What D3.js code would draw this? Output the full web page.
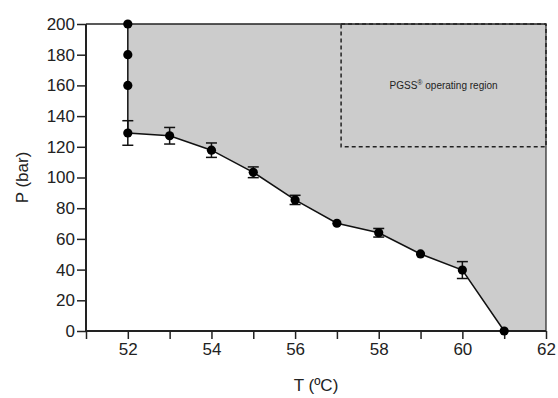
<!DOCTYPE html>
<html>
<head>
<meta charset="utf-8">
<script src="https://cdn.jsdelivr.net/npm/d3@7"></script>
<style>
  body { margin: 0; background: #fff; }
  svg { display: block; font-family: "Liberation Sans", Arial, sans-serif; }
</style>
</head>
<body>
<svg id="svg" width="558" height="398"></svg>
<script>
const w = 558;
const h = 398;

// data
const temps = [52, 52, 52, 52, 53, 54, 55, 56, 57, 58, 59, 60, 61];
const pressures = [200, 180, 160, 129, 127.2, 117.8, 103.4, 85.4, 70.2, 64, 50.2, 39.7, 0];
const errors = [0, 0, 0, 8, 5.4, 4.7, 3.5, 3, 0, 2.8, 0, 5.5, 0];

const xTicks = [51, 52, 53, 54, 55, 56, 57, 58, 59, 60, 61, 62];
const xLabels = [52, 54, 56, 58, 60, 62];
const yTicks = [0, 20, 40, 60, 80, 100, 120, 140, 160, 180, 200];

const regionX = [57.1, 62];
const regionY = [120, 200];
const regionLabel = "PGSS";

let svg = d3.select("#svg");

let xScale = d3.scaleLinear([51, 62], [86, 546]);
let yScale = d3.scaleLinear([0, 200], [331, 24]);

let data = temps.map((t, i) => ({ t, p: pressures[i], e: errors[i] }));

// shaded area above the curve
let areaPts = data.map((d) => [d.t, d.p]);
areaPts.push([62, 0], [62, 200]);

svg
  .append("path")
  .datum(areaPts)
  .attr("fill", "#cccccc")
  .attr("stroke", "none")
  .attr("d", d3.line().x((d) => xScale(d[0])).y((d) => yScale(d[1])));

// frame top + right
svg
  .append("line")
  .attr("x1", xScale(51)).attr("x2", xScale(62))
  .attr("y1", yScale(200)).attr("y2", yScale(200))
  .attr("stroke", "#222").attr("stroke-width", 1.5);
svg
  .append("line")
  .attr("x1", xScale(62)).attr("x2", xScale(62))
  .attr("y1", yScale(200)).attr("y2", yScale(0))
  .attr("stroke", "#222").attr("stroke-width", 1.2);

// operating region box
svg
  .append("rect")
  .attr("x", xScale(regionX[0]))
  .attr("y", yScale(regionY[1]))
  .attr("width", xScale(regionX[1]) - xScale(regionX[0]))
  .attr("height", yScale(regionY[0]) - yScale(regionY[1]))
  .attr("fill", "none")
  .attr("stroke", "#222")
  .attr("stroke-width", 1.5)
  .attr("stroke-dasharray", "4,3");

let label = svg
  .append("text")
  .attr("x", xScale((regionX[0] + regionX[1]) / 2))
  .attr("y", yScale((regionY[0] + regionY[1]) / 2) + 4)
  .attr("text-anchor", "middle")
  .attr("font-size", 10)
  .attr("fill", "#222");
label.append("tspan").text(regionLabel);
label.append("tspan").attr("font-size", 7).attr("dy", -4).text("®");
label.append("tspan").attr("dy", 4).text(" operating region");

// axes
let xAxis = d3.axisBottom(xScale)
  .tickValues(xTicks)
  .tickSize(8)
  .tickPadding(4)
  .tickFormat((d) => (xLabels.includes(d) ? d : ""));

let yAxis = d3.axisLeft(yScale)
  .tickValues(yTicks)
  .tickSize(9)
  .tickPadding(2);

let gx = svg.append("g").attr("transform", `translate(0,${yScale(0)})`).call(xAxis);
let gy = svg.append("g").attr("transform", `translate(${xScale(51)},0)`).call(yAxis);

[gx, gy].forEach((g) => {
  g.select(".domain").attr("stroke", "#222").attr("stroke-width", 2);
  g.selectAll(".tick line").attr("stroke", "#222").attr("stroke-width", 1.5);
  g.selectAll(".tick text")
    .attr("font-size", 17)
    .attr("font-family", "'Liberation Sans', Arial, sans-serif")
    .attr("fill", "#222");
});
gx.select(".domain").attr("d", `M${xScale(51)},0H${xScale(62)}`);
gy.select(".domain").attr("d", `M0,${yScale(0)}V${yScale(200)}`);

// curve
svg
  .append("path")
  .datum(data)
  .attr("fill", "none")
  .attr("stroke", "#111")
  .attr("stroke-width", 1.5)
  .attr("d", d3.line().x((d) => xScale(d.t)).y((d) => yScale(d.p)));

// error bars
let eb = svg.append("g").attr("stroke", "#111").attr("stroke-width", 1.5);
data.filter((d) => d.e > 0).forEach((d) => {
  let x = xScale(d.t);
  let y1 = yScale(d.p + d.e);
  let y2 = yScale(d.p - d.e);
  eb.append("line").attr("x1", x).attr("x2", x).attr("y1", y1).attr("y2", y2);
  eb.append("line").attr("x1", x - 5.5).attr("x2", x + 5.5).attr("y1", y1).attr("y2", y1);
  eb.append("line").attr("x1", x - 5.5).attr("x2", x + 5.5).attr("y1", y2).attr("y2", y2);
});

// points
svg
  .append("g")
  .selectAll("circle")
  .data(data)
  .join("circle")
  .attr("cx", (d) => xScale(d.t))
  .attr("cy", (d) => yScale(d.p))
  .attr("r", 4.6)
  .attr("fill", "#000");

// axis titles
svg
  .append("text")
  .attr("x", (xScale(51) + xScale(62)) / 2)
  .attr("y", 391)
  .attr("text-anchor", "middle")
  .attr("font-size", 17)
  .attr("fill", "#222")
  .text("T (ºC)");

svg
  .append("text")
  .attr("transform", `translate(28,${(yScale(0) + yScale(200)) / 2}) rotate(-90)`)
  .attr("text-anchor", "middle")
  .attr("font-size", 17)
  .attr("fill", "#222")
  .text("P (bar)");
</script>
</body>
</html>
